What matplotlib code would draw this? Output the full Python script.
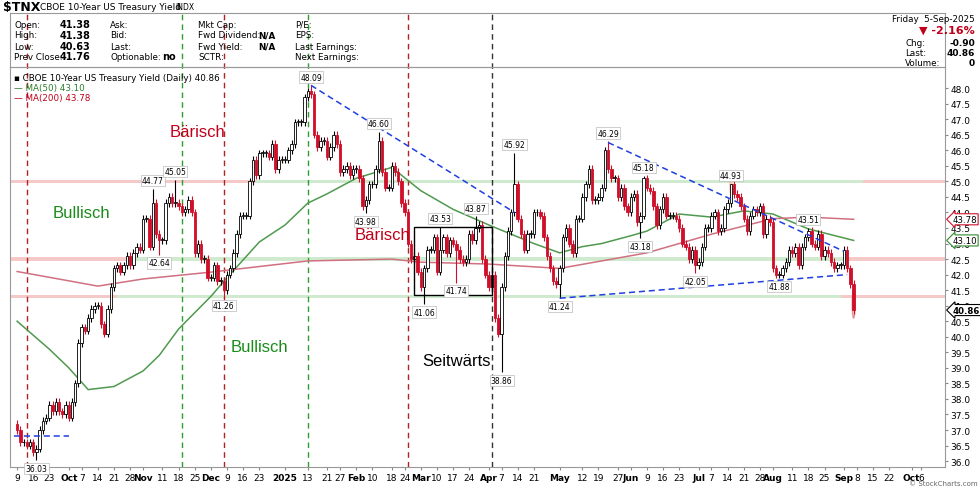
import numpy as np
import pandas as pd
import matplotlib
matplotlib.use("Agg")
import matplotlib.pyplot as plt
from matplotlib.patches import Rectangle, Circle

START = "2024-09-09"
closes = [
 # Sep 2024 (from Sep 9)
 37.0,36.6,36.6,36.5,36.6,36.3,36.4,37.0,37.3,37.4,37.8,37.6,37.9,37.6,37.5,37.8,
 # Oct
 37.4,37.9,38.5,39.8,40.3,40.2,40.6,40.9,41.0,41.0,40.4,40.1,40.9,41.6,42.2,42.3,42.1,42.3,42.6,42.3,42.7,42.9,42.8,
 # Nov
 43.8,43.8,42.9,44.3,43.3,43.1,43.1,44.3,44.5,44.3,44.3,44.2,44.0,44.1,44.4,44.0,42.7,43.0,42.5,42.5,41.9,
 # Dec
 41.9,42.3,41.8,41.8,41.5,42.0,42.2,42.7,43.3,43.9,43.9,43.9,45.0,45.7,45.2,45.9,45.9,45.9,45.8,46.2,45.4,45.7,
 # Jan 2025
 45.7,45.7,46.0,46.2,46.9,46.9,46.9,47.7,47.9,47.8,46.5,46.1,46.3,46.3,45.8,46.1,46.5,46.2,45.3,45.4,45.5,45.2,45.4,
 # Feb
 45.4,45.1,44.2,44.4,44.9,44.9,45.4,46.3,45.3,44.8,44.8,45.5,45.3,45.0,44.3,44.0,43.0,42.5,42.6,42.1,
 # Mar
 41.6,42.2,42.8,42.8,43.2,42.1,42.8,43.2,42.7,43.1,43.0,42.8,42.5,42.4,42.5,43.3,43.1,43.5,43.6,42.5,42.0,
 # Apr
 41.6,42.0,40.6,40.1,41.6,42.6,43.4,44.0,44.9,43.8,43.3,42.8,43.3,43.3,44.0,44.0,43.9,43.2,42.6,42.2,41.8,41.7,
 # May
 42.2,43.2,43.5,43.0,42.7,43.8,43.8,44.5,44.9,45.4,44.4,44.4,44.5,44.8,46.0,45.4,45.1,45.1,44.5,44.8,44.2,44.0,
 # Jun
 44.5,44.6,43.7,43.9,45.1,44.8,44.7,44.2,43.6,44.1,44.5,43.9,43.9,43.9,43.8,43.5,43.0,42.9,42.5,42.8,42.3,
 # Jul
 42.4,42.9,43.5,43.5,43.9,44.0,43.4,43.5,44.1,44.3,44.9,44.6,44.5,44.2,43.8,43.4,43.9,44.1,44.0,44.2,43.3,43.8,43.7,
 # Aug
 42.2,42.0,42.0,42.2,42.4,42.8,42.7,42.9,42.3,42.9,43.2,43.4,43.0,42.9,43.3,42.6,42.8,42.7,42.4,42.2,42.3,
 # Sep
 42.3,42.8,42.2,41.7,40.86,
]
first_open = 37.2

extreme_highs = {"2024-11-06":44.77,"2024-11-15":45.05,"2025-01-14":48.09,"2025-02-12":46.60,
                 "2025-03-11":43.53,"2025-03-26":43.87,"2025-04-11":45.92,"2025-05-22":46.29,
                 "2025-06-06":45.18,"2025-07-15":44.93,"2025-08-18":43.51}
extreme_lows = {"2024-09-17":36.03,"2024-11-08":42.64,"2024-12-06":41.26,"2025-02-06":43.98,
                "2025-03-04":41.06,"2025-03-18":41.74,"2025-04-07":38.86,"2025-05-01":41.24,
                "2025-06-05":43.18,"2025-06-30":42.05,"2025-08-05":41.88}

ma50_dates = ["2024-09-09","2024-09-23","2024-10-01","2024-10-09","2024-10-21","2024-11-01","2024-11-08",
              "2024-11-18","2024-12-02","2024-12-09","2024-12-23","2025-01-02","2025-01-13","2025-01-21",
              "2025-02-03","2025-02-18","2025-03-03","2025-03-17","2025-04-01","2025-04-10","2025-04-21",
              "2025-05-01","2025-05-12","2025-05-20","2025-06-02","2025-06-09","2025-06-23","2025-07-07",
              "2025-07-21","2025-08-01","2025-08-18","2025-09-05"]
ma50_vals = [40.5,39.6,39.0,38.3,38.4,38.9,39.4,40.25,41.3,41.9,43.05,43.6,44.3,44.6,45.1,45.45,44.7,
             44.1,43.6,43.3,43.0,42.7,42.9,43.0,43.25,43.4,43.95,43.85,44.05,43.95,43.47,43.10]
ma200_dates = ["2024-09-09","2024-10-01","2024-10-14","2024-11-01","2024-12-02","2025-01-13","2025-02-18",
               "2025-03-03","2025-04-01","2025-05-01","2025-06-09","2025-07-07","2025-08-01","2025-08-18","2025-09-05"]
ma200_vals = [42.1,41.8,41.63,41.86,42.08,42.44,42.5,42.4,42.34,42.2,42.7,43.3,43.8,43.85,43.78]

bands = [(45.0,"2024-09-05","2024-12-20","r"),(45.0,"2024-12-20","2025-09-10","g"),(45.0,"2025-09-10","2025-10-20","r"),
         (42.5,"2024-09-05","2024-10-28","r"),(42.5,"2024-10-28","2025-09-03","g"),(42.5,"2025-09-03","2025-10-20","r"),
         (41.3,"2024-09-05","2024-10-22","r"),(41.3,"2024-10-22","2025-09-01","g"),(41.3,"2025-09-01","2025-10-20","r")]
vlines = [("2024-09-12","#b22222"),("2024-11-19","#2e9e2e"),("2024-12-06","#b22222"),
          ("2025-01-13","#2e9e2e"),("2025-02-25","#b22222"),("2025-04-02","#333333")]
trend_lines = [(("2025-01-14",48.09),("2025-04-11",44.0)),
               (("2025-05-22",46.25),("2025-09-02",42.75)),
               (("2025-05-01",41.24),("2025-09-03",42.0)),
               (("2024-09-03",36.8),("2024-10-01",36.8))]
ticks = [("2024-09-09","9"),("2024-09-16","16"),("2024-09-23","23"),("2024-10-01","Oct"),("2024-10-07","7"),
 ("2024-10-14","14"),("2024-10-21","21"),("2024-10-28","28"),("2024-11-01","Nov"),("2024-11-11","11"),
 ("2024-11-18","18"),("2024-11-25","25"),("2024-12-02","Dec"),("2024-12-09","9"),("2024-12-16","16"),
 ("2024-12-23","23"),("2025-01-02","2025"),("2025-01-13","13"),("2025-01-21","21"),("2025-01-27","27"),
 ("2025-02-03","Feb"),("2025-02-10","10"),("2025-02-18","18"),("2025-02-24","24"),("2025-03-03","Mar"),
 ("2025-03-10","10"),("2025-03-17","17"),("2025-03-24","24"),("2025-04-01","Apr"),("2025-04-07","7"),
 ("2025-04-14","14"),("2025-04-21","21"),("2025-05-01","May"),("2025-05-12","12"),("2025-05-19","19"),
 ("2025-05-27","27"),("2025-06-02","Jun"),("2025-06-09","9"),("2025-06-16","16"),("2025-06-23","23"),
 ("2025-07-01","Jul"),("2025-07-07","7"),("2025-07-14","14"),("2025-07-21","21"),("2025-07-28","28"),
 ("2025-08-01","Aug"),("2025-08-11","11"),("2025-08-18","18"),("2025-08-25","25"),("2025-09-02","Sep"),
 ("2025-09-08","8"),("2025-09-15","15"),("2025-09-22","22"),("2025-10-01","Oct"),("2025-10-06","6")]
phase_texts = [("Bärisch","2024-11-26",46.6,"#c0001a"),("Bullisch","2024-10-07",44.0,"#1a8c1a"),
               ("Bärisch","2025-02-13",43.3,"#c0001a"),("Bullisch","2024-12-23",39.7,"#1a8c1a"),
               ("Seitwärts","2025-03-18",39.25,"black")]

def xi(d):
    return int(np.busday_count(START, pd.Timestamp(d).strftime("%Y-%m-%d")))

x = np.arange(len(closes))
c = np.array(closes)
o = np.concatenate([[first_open], c[:-1]])
h = np.maximum(o, c) + 0.12
l = np.minimum(o, c) - 0.12
for d, v in extreme_highs.items(): h[xi(d)] = v
for d, v in extreme_lows.items(): l[xi(d)] = v

fig = plt.figure(figsize=(9.8, 4.89), dpi=100)
W, H = 980, 489
ax = fig.add_axes([10/W, 1-468/H, 935/W, 400/H])
ax.set_xlim(-2.2, 287.3)
ax.set_ylim(35.81, 48.68)

for lev, s, e, col in bands:
    ax.fill_between([xi(s), xi(e)], lev-0.06, lev+0.06,
                    color=("#f4b8b8" if col == "r" else "#bfe3bf"), alpha=0.75, lw=0, zorder=1)

top = (468-14)/400
for d, col in vlines:
    ax.axvline(xi(d), ymin=0, ymax=top, color=col, ls=(0,(4,3)), lw=1, clip_on=False, zorder=2)

ax.plot([xi(d) for d in ma50_dates], ma50_vals, color="#4f9a4f", lw=1.1, zorder=3)
ax.plot([xi(d) for d in ma200_dates], ma200_vals, color="#d07080", lw=1.1, zorder=3)

for i in x:
    up = c[i] >= o[i]
    col = "black" if up else "#d0102a"
    ax.vlines(i, l[i], h[i], color=col, lw=0.8, zorder=4)
    lo, hi = min(o[i], c[i]), max(o[i], c[i])
    ax.add_patch(Rectangle((i-0.38, lo), 0.76, max(hi-lo, 0.03), facecolor=("white" if up else "#d0102a"),
                           edgecolor=col, lw=0.6, zorder=5))

for (d1, v1), (d2, v2) in trend_lines:
    ax.plot([xi(d1), xi(d2)], [v1, v2], color="#1f3fe0", ls=(0,(4,2.5)), lw=1.1, zorder=6)

ax.add_patch(Rectangle((xi("2025-02-27"), 41.35), xi("2025-04-02")-xi("2025-02-27"), 43.53-41.35,
                       fill=False, edgecolor="black", lw=1, zorder=6))
ax.add_patch(Circle((xi("2025-07-15"), 44.95), 0.38, color="#f5b080", alpha=0.45, zorder=2))
ax.add_patch(Circle((xi("2025-09-05"), 41.05), 0.45, facecolor="#e89090", edgecolor="#d05050", alpha=0.5, zorder=2))

bbox = dict(boxstyle="square,pad=0.15", fc="white", ec="#bbbbbb", lw=0.5)
for d, v in extreme_highs.items():
    ax.text(xi(d), v+0.12, f"{v:.2f}", fontsize=5.5, ha="center", va="bottom", bbox=bbox, zorder=7)
for d, v in extreme_lows.items():
    ax.text(xi(d), v-0.12, f"{v:.2f}", fontsize=5.5, ha="center", va="top", bbox=bbox, zorder=7)

for t, d, v, col in phase_texts:
    ax.text(xi(d), v, t, fontsize=12, color=col, ha="center", va="center", family="Liberation Sans", zorder=7)

ax.yaxis.tick_right()
ax.set_yticks(np.arange(36.0, 48.01, 0.5))
ax.set_yticklabels([f"{v:.1f}" for v in np.arange(36.0, 48.01, 0.5)], fontsize=6.5)
ax.set_xticks([xi(d) for d, _ in ticks])
ax.set_xticklabels([t for _, t in ticks], fontsize=6.5)
for lbl in ax.get_xticklabels():
    if not lbl.get_text().isdigit() or lbl.get_text() == "2025":
        lbl.set_fontweight("bold")
ax.tick_params(length=2, color="#888888", pad=2)
for s in ax.spines.values():
    s.set_color("#999999"); s.set_linewidth(0.8)

for v, ec in [(43.78, "#d0102a"), (43.10, "#2e8b2e"), (40.86, "black")]:
    ax.text(1.008, v, f"{v:.2f}", transform=ax.get_yaxis_transform(), fontsize=6.2, va="center",
            ha="left", zorder=10, clip_on=False,
            bbox=dict(boxstyle="larrow,pad=0.12", fc="white", ec=ec, lw=0.8),
            fontweight="bold" if v == 40.86 else None)

ax.text(0.004, 0.985, "▪ CBOE 10-Year US Treasury Yield (Daily) 40.86", transform=ax.transAxes, fontsize=6.3, va="top")
ax.text(0.004, 0.96, "— MA(50) 43.10", transform=ax.transAxes, fontsize=6.3, va="top", color="#2e7d2e")
ax.text(0.004, 0.935, "— MA(200) 43.78", transform=ax.transAxes, fontsize=6.3, va="top", color="#c0001a")

fig.text(3/W, 1-8/H, "$TNX", fontsize=9, fontweight="bold", va="center")
fig.text(40/W, 1-8/H, "CBOE 10-Year US Treasury Yield", fontsize=6.5, va="center")
fig.text(175/W, 1-8/H, "INDX", fontsize=5.5, va="center")
hdr = fig.add_axes([10/W, 1-68/H, 935/W, 54/H]); hdr.set_xticks([]); hdr.set_yticks([])
for s in hdr.spines.values(): s.set_color("#999999"); s.set_linewidth(0.8)
hdr.patch.set_alpha(0)
rows = [25, 36, 47, 57]
for (a, b), y in zip([("Open:","41.38"),("High:","41.38"),("Low:","40.63"),("Prev Close:","41.76")], rows):
    fig.text(14/W, 1-y/H, a, fontsize=6.3, va="center")
    fig.text(60/W, 1-y/H, b, fontsize=7, va="center", fontweight="bold")
for a, y in zip(["Ask:","Bid:","Last:","Optionable:"], rows):
    fig.text(110/W, 1-y/H, a, fontsize=6.3, va="center")
fig.text(162/W, 1-57/H, "no", fontsize=7, va="center", fontweight="bold")
for a, y in zip(["Mkt Cap:","Fwd Dividend:","Fwd Yield:","SCTR:"], rows):
    fig.text(198/W, 1-y/H, a, fontsize=6.3, va="center")
for y in rows[1:3]:
    fig.text(258/W, 1-y/H, "N/A", fontsize=6.3, va="center", fontweight="bold")
for a, y in zip(["P/E:","EPS:","Last Earnings:","Next Earnings:"], rows):
    fig.text(295/W, 1-y/H, a, fontsize=6.3, va="center")
fig.text(975/W, 1-20/H, "Friday  5-Sep-2025", fontsize=6.3, va="center", ha="right")
fig.text(975/W, 1-31/H, "▼ -2.16%", fontsize=8, va="center", ha="right", color="#c0001a", fontweight="bold")
for (a, b), y in zip([("Chg:","-0.90"),("Last:","40.86"),("Volume:","0")], [43, 53, 64]):
    fig.text(905/W, 1-y/H, a, fontsize=6.3, va="center")
    fig.text(975/W, 1-y/H, b, fontsize=6.5, va="center", ha="right", fontweight="bold")
fig.text(978/W, 1-484/H, "© StockCharts.com", fontsize=5, va="center", ha="right", color="#666666")

fig.savefig("out.png", dpi=100)
